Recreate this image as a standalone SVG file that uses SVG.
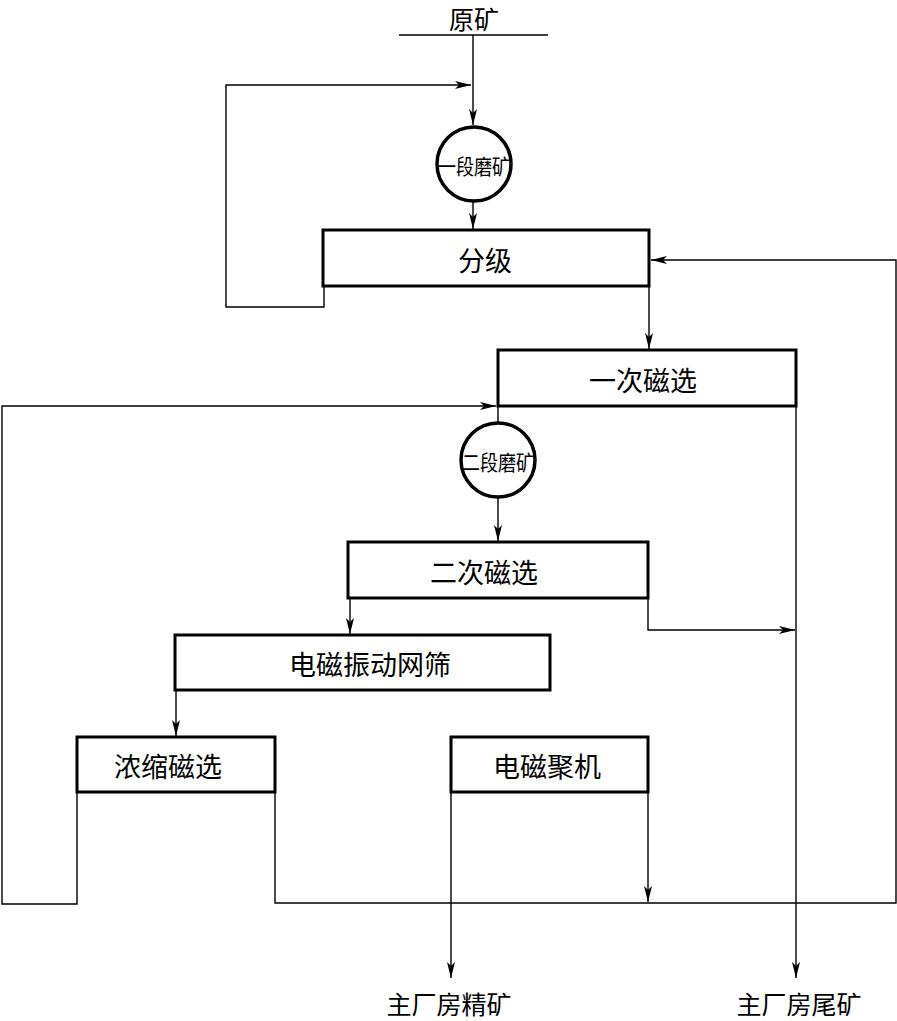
<svg xmlns="http://www.w3.org/2000/svg" width="897" height="1021" viewBox="0 0 897 1021">
<style>
.box{fill:#fff;stroke:#000;stroke-width:3}
.circ{fill:#fff;stroke:#000;stroke-width:3.5}
.ln{fill:none;stroke:#000;stroke-width:1.4}
.t{font-family:"Noto Sans CJK SC","Noto Sans CJK JP",sans-serif;font-size:27px;fill:#000;text-anchor:middle;dominant-baseline:central}
.te{font-family:"Noto Sans CJK SC","Noto Sans CJK JP",sans-serif;font-size:25px;fill:#000;text-anchor:middle;dominant-baseline:central}
.ts{font-family:"Noto Sans CJK SC","Noto Sans CJK JP",sans-serif;font-size:21px;fill:#000;text-anchor:middle;dominant-baseline:central}
</style>
<defs>
<marker id="ar" viewBox="0 0 16 8" refX="16" refY="4" markerWidth="16" markerHeight="8" markerUnits="userSpaceOnUse" orient="auto">
<path d="M0,0 L16,4 L0,8 L4,4 z" fill="#000"/>
</marker>
</defs>
<rect width="897" height="1021" fill="#fff"/>
<g id="connectors">
<line class="ln" x1="399" y1="35" x2="548" y2="35"/>
<line class="ln" x1="473" y1="35" x2="473" y2="125" marker-end="url(#ar)"/>
<polyline class="ln" points="324,286 324,307 226,307 226,85 471,85" marker-end="url(#ar)"/>
<line class="ln" x1="473" y1="201" x2="473" y2="229" marker-end="url(#ar)"/>
<polyline class="ln" points="275,792 275,903 896,903 896,260 651,260" marker-end="url(#ar)"/>
<line class="ln" x1="649" y1="286" x2="649" y2="349" marker-end="url(#ar)"/>
<polyline class="ln" points="77,792 77,904 2,904 2,406 496,406" marker-end="url(#ar)"/>
<line class="ln" x1="498" y1="406" x2="498" y2="424"/>
<line class="ln" x1="498" y1="497" x2="498" y2="541" marker-end="url(#ar)"/>
<line class="ln" x1="796" y1="406" x2="796" y2="978" marker-end="url(#ar)"/>
<polyline class="ln" points="648,598 648,630 795,630" marker-end="url(#ar)"/>
<line class="ln" x1="350" y1="598" x2="350" y2="634" marker-end="url(#ar)"/>
<line class="ln" x1="176" y1="690" x2="176" y2="736" marker-end="url(#ar)"/>
<line class="ln" x1="451" y1="792" x2="451" y2="978" marker-end="url(#ar)"/>
<line class="ln" x1="648" y1="792" x2="648" y2="902" marker-end="url(#ar)"/>
</g>
<g id="n-raw"><text class="te" x="474" y="18">原矿</text></g>
<g id="n-grind1"><circle class="circ" cx="474" cy="164" r="37"/><text class="ts" x="474" y="165" textLength="72" lengthAdjust="spacingAndGlyphs">一段磨矿</text></g>
<g id="n-classify"><rect class="box" x="323" y="230" width="326" height="56"/><text class="t" x="485" y="259">分级</text></g>
<g id="n-mag1"><rect class="box" x="498" y="350" width="298" height="56"/><text class="t" x="643" y="379">一次磁选</text></g>
<g id="n-grind2"><circle class="circ" cx="498" cy="460" r="37"/><text class="ts" x="498" y="461" textLength="72" lengthAdjust="spacingAndGlyphs">二段磨矿</text></g>
<g id="n-mag2"><rect class="box" x="348" y="542" width="300" height="56"/><text class="t" x="484" y="571">二次磁选</text></g>
<g id="n-screen"><rect class="box" x="175" y="635" width="375" height="55"/><text class="t" x="370" y="663">电磁振动网筛</text></g>
<g id="n-thick"><rect class="box" x="77" y="737" width="198" height="55"/><text class="t" x="168" y="765">浓缩磁选</text></g>
<g id="n-emag"><rect class="box" x="451" y="737" width="197" height="55"/><text class="t" x="547" y="765">电磁聚机</text></g>
<g id="n-conc"><text class="te" x="449" y="1003">主厂房精矿</text></g>
<g id="n-tail"><text class="te" x="799" y="1003">主厂房尾矿</text></g>
</svg>
